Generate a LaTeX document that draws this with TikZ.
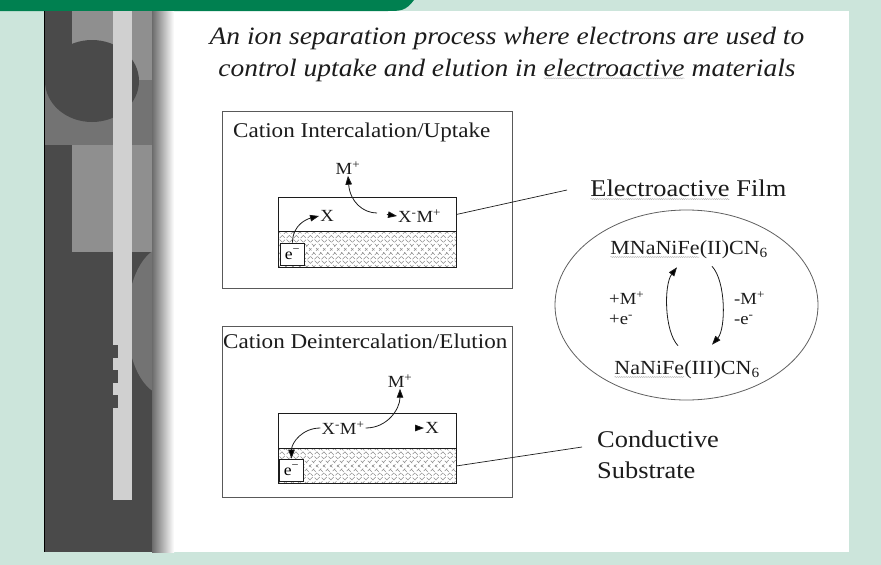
\documentclass[tikz,border=0pt]{standalone}
\usepackage{fontspec}
\setmainfont[FakeStretch=1.1]{Liberation Serif}
\usetikzlibrary{arrows.meta,shapes.geometric,decorations.pathmorphing}

\definecolor{slidegreen}{RGB}{0,128,80}
\definecolor{paleteal}{RGB}{204,229,219}
\definecolor{stripdark}{RGB}{74,74,74}
\definecolor{stripmid}{RGB}{115,115,115}
\definecolor{striplight}{RGB}{143,143,143}
\definecolor{stripbar}{RGB}{208,208,208}
\definecolor{inkgray}{RGB}{28,28,28}

% wavy spell-check underline under a word
\newcommand{\squig}[1]{\tikz[baseline=(w.base)]{\node[inner sep=0pt,outer sep=0pt] (w) {#1};
  \draw[gray!55, line width=0.4pt, decorate, decoration={snake,amplitude=0.6pt,segment length=2.2pt}]
    ([yshift=-2pt]w.south west) -- ([yshift=-2pt]w.south east);}}

\begin{document}
\begin{tikzpicture}[x=1pt, y=-1pt,
    panel/.style={draw=gray!70!black, line width=0.8pt, inner sep=0pt},
    film/.style={draw=inkgray, line width=0.8pt, inner sep=0pt, minimum width=178pt},
    ebox/.style={draw=inkgray, line width=0.7pt, fill=white, inner sep=0pt,
                 minimum width=24pt, minimum height=22pt,
                 font=\fontsize{16}{16}\selectfont},
    lbl/.style={text=inkgray, font=\fontsize{17}{20}\selectfont, inner sep=1pt},
    head/.style={text=inkgray, font=\fontsize{21}{21}\selectfont, anchor=base west, inner sep=0pt},
    tag/.style={text=inkgray, font=\fontsize{24}{31}\selectfont, anchor=west, align=left, inner sep=0pt},
    chem/.style={text=inkgray, font=\fontsize{20}{20}\selectfont, inner sep=0pt},
    hatch/.style={gray!90, line width=0.6pt, dash pattern=on 3.5pt off 2.5pt},
    curv/.style={draw=inkgray, line width=0.8pt},
    tip/.style={-{Triangle[length=9pt,width=6.5pt]}},
    lead/.style={draw=inkgray, line width=0.7pt}
  ]
  %% slide frame and left strip
  \useasboundingbox (0,0) rectangle (881,565);
  \fill[paleteal] (0,0) rectangle (881,565);
  \fill[white] (44,11) rectangle (849,552);
  \fill[slidegreen] (0,0) -- (414,0) .. controls (406,11) and (400,11) .. (388,11) -- (0,11) -- cycle;
  \fill[stripdark] (44,11) rectangle (152,552);
  \fill[striplight] (72,11) rectangle (152,80);
  \fill[stripmid] (44,80) rectangle (152,145);
  \fill[striplight] (72,145) rectangle (152,252);
  \begin{scope}
    \clip (44,11) rectangle (152,552);
    \fill[stripmid] (165,321) ellipse (38 and 74);
    \fill[stripdark] (92,81) ellipse (47 and 41);
  \end{scope}
  \fill[stripbar] (113,11) rectangle (132,500);
  \foreach \ny in {345,370,395}
    \fill[stripdark] (111,\ny) rectangle (118,\ny+13);
  \shade[left color=black!58, right color=white] (152,11) rectangle (174,552);
  \draw[black, line width=0.8pt] (44,11) -- (44,552);

  %% Title
  \node[text=inkgray, font=\fontsize{25}{32}\selectfont\itshape, align=center] (ttl) at (507,54)
    {An ion separation process where electrons are used to\\
     control uptake and elution in \squig{electroactive} materials};

  %% Uptake panel
  \node[panel, minimum width=290pt, minimum height=177pt, anchor=north west] (up) at (222,111) {};
  \node[head] (upT) at (233,137) {Cation Intercalation/Uptake};
  \node[film, minimum height=34pt, anchor=north west] (f1top) at (278,197) {};
  \node[film, minimum height=36pt, anchor=north west] (f1sub) at (278,231) {};
  %% Elution panel
  \node[panel, minimum width=290pt, minimum height=171pt, anchor=north west] (down) at (222,326) {};
  \node[head] (downT) at (223,348) {Cation Deintercalation/Elution};
  \node[film, minimum height=35pt, anchor=north west] (f2top) at (278,413) {};
  \node[film, minimum height=35pt, anchor=north west] (f2sub) at (278,448) {};

  %% Substrate hatch
  \foreach \sub in {f1sub,f2sub}{
    \begin{scope}
      \clip (\sub.south west) rectangle (\sub.north east);
      \foreach \k in {-42,-35,...,180}{
        \draw[hatch] ([xshift=\k pt]\sub.north west) -- ++(40,40);
        \draw[hatch] ([xshift=\k pt]\sub.south west) -- ++(40,-40);
      }
    \end{scope}
    \draw[film] (\sub.south west) rectangle (\sub.north east);
  }

  %% Uptake labels and arrows
  \node[ebox] (e1) at (292.5,254) {e\textsuperscript{−}};
  \node[lbl] (x1) at (327,216) {X};
  \node[lbl, anchor=west] (xm1) at (397,216) {X\textsuperscript{-}M\textsuperscript{+}};
  \node[lbl] (m1) at (348,168) {M\textsuperscript{+}};
  \coordinate (m1end) at (377,213);
  \draw[curv, tip] (e1.north) .. controls +(0,-18) and +(-12,3) .. (x1.west);
  \draw[curv, {Triangle[length=9pt,width=6.5pt]}-] (m1.south) .. controls +(2,26) and +(-14,0) .. (m1end);
  \draw[curv, tip, shorten <=10pt] (m1end) -- (xm1.west);

  %% Elution labels and arrows
  \node[ebox] (e2) at (291.5,470) {e\textsuperscript{−}};
  \node[lbl] (xm2) at (343,428) {X\textsuperscript{-}M\textsuperscript{+}};
  \node[lbl] (x2) at (432,428) {X};
  \node[lbl] (m2) at (400,381) {M\textsuperscript{+}};
  \draw[curv, tip] (xm2.east) .. controls +(22,0) and +(0,20) .. (m2.south);
  \draw[curv, tip] (xm2.west) .. controls +(-18,0) and +(0,-16) .. (e2.north);
  \draw[curv, tip] ([xshift=-9pt]x2.west) -- (x2.west);

  %% Callouts
  \node[tag] (filmT) at (590,190) {\squig{Electroactive} Film};
  \node[tag] (subT) at (597,455) {Conductive\\Substrate};
  \draw[lead] (f1top.east) -- ([xshift=-23pt]filmT.west);
  \draw[lead] (f2sub.east) -- ([xshift=-15pt,yshift=8pt]subT.west);

  %% Redox cycle
  \node[draw=gray!75!black, line width=0.8pt, ellipse, minimum width=263pt, minimum height=190pt] (cyc) at (686.5,305) {};
  \node[chem] (ox) at (689,250) {\squig{MNaNiFe}(II)CN\textsubscript{6}};
  \node[chem] (red) at (687,370) {\squig{NaNiFe}(III)CN\textsubscript{6}};
  \node[lbl, anchor=west, align=left] (gain) at (608,308) {+M\textsuperscript{+}\\+e\textsuperscript{-}};
  \node[lbl, anchor=west, align=left] (loss) at (733,308) {-M\textsuperscript{+}\\-e\textsuperscript{-}};
  \draw[curv, tip] ([xshift=-9pt,yshift=15pt]red.north) .. controls +(-14,-15) and +(-13,17) .. ([xshift=-12pt,yshift=-8pt]ox.south);
  \draw[curv, tip] ([xshift=23pt,yshift=-7pt]ox.south) .. controls +(14,15) and +(14,-16) .. ([xshift=25pt,yshift=16pt]red.north);
\end{tikzpicture}
\end{document}
